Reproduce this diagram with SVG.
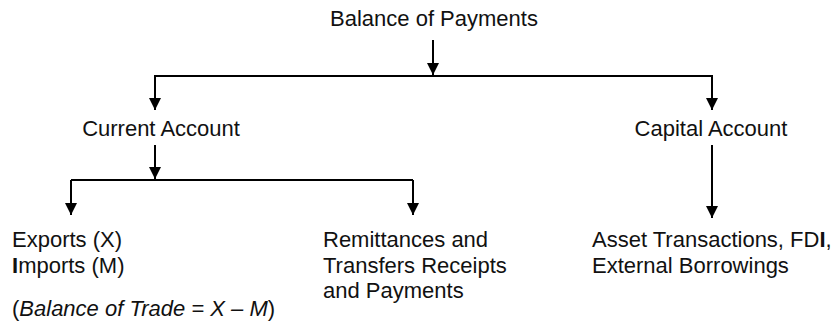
<svg xmlns="http://www.w3.org/2000/svg" width="835" height="332" viewBox="0 0 835 332">
  <style>
    text { font-family: "Liberation Sans", Arial, sans-serif; font-size: 22px; fill: #111; }
    .conn { stroke: #000; stroke-width: 2; fill: none; }
    .arr { stroke: #000; stroke-width: 2; fill: none; marker-end: url(#head); }
    .b { font-weight: bold; }
    .i { font-style: italic; }
  </style>
  <defs>
    <marker id="head" markerUnits="userSpaceOnUse" markerWidth="14" markerHeight="14" refX="12" refY="6" orient="auto">
      <path d="M0,0 L12,6 L0,12 Z" fill="#000"/>
    </marker>
  </defs>

  <rect width="835" height="332" fill="#fff"/>

  <g id="connectors">
    <!-- Balance of Payments split -->
    <line class="arr" x1="433" y1="40" x2="433" y2="75"/>
    <polyline class="conn" points="155,110 155,76 712,76 712,110"/>
    <line class="arr" x1="155" y1="76" x2="155" y2="110"/>
    <line class="arr" x1="712" y1="76" x2="712" y2="110"/>
    <!-- Current account split -->
    <line class="arr" x1="155" y1="145" x2="155" y2="179"/>
    <line class="conn" x1="71" y1="180" x2="413" y2="180"/>
    <line class="arr" x1="71" y1="180" x2="71" y2="215"/>
    <line class="arr" x1="413" y1="180" x2="413" y2="215"/>
    <!-- Capital account -->
    <line class="arr" x1="712" y1="145" x2="712" y2="218"/>
  </g>

  <g id="bop">
    <text x="434" y="26" text-anchor="middle">Balance of Payments</text>
  </g>
  <g id="current-account">
    <text x="161" y="136" text-anchor="middle">Current Account</text>
  </g>
  <g id="capital-account">
    <text x="711" y="136" text-anchor="middle">Capital Account</text>
  </g>
  <g id="trade">
    <text x="12" y="247">Exports (X)</text>
    <text x="12" y="273"><tspan class="b">I</tspan>mports (M)</text>
    <text x="12" y="316">(<tspan class="i">Balance of Trade = X – M</tspan>)</text>
  </g>
  <g id="transfers">
    <text x="323" y="247">Remittances and</text>
    <text x="323" y="273">Transfers Receipts</text>
    <text x="323" y="298">and Payments</text>
  </g>
  <g id="capital-items">
    <text x="592" y="247">Asset Transactions, FD<tspan class="b">I</tspan>,</text>
    <text x="592" y="273">External Borrowings</text>
  </g>
</svg>
